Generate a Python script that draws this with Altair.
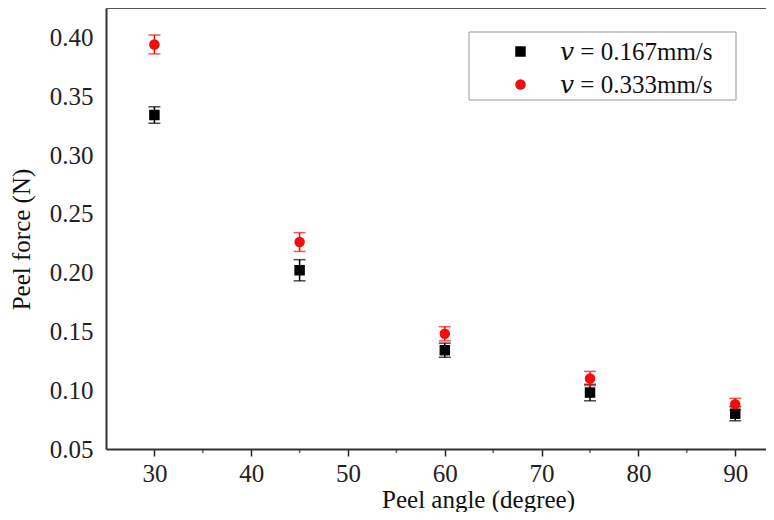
import altair as alt
import pandas as pd

angles = [30, 45, 60, 75, 90]
series_names = ["𝑣 = 0.167mm/s", "𝑣 = 0.333mm/s"]
series_colors = ["#000000", "#f20c0c"]
force_slow = [0.334, 0.202, 0.134, 0.098, 0.080]
err_slow = [0.007, 0.009, 0.006, 0.007, 0.006]
force_fast = [0.394, 0.226, 0.148, 0.110, 0.088]
err_fast = [0.008, 0.008, 0.006, 0.006, 0.005]

x_major = [30, 40, 50, 60, 70, 80, 90]
x_minor = [35, 45, 55, 65, 75, 85]
y_ticks = [0.05, 0.10, 0.15, 0.20, 0.25, 0.30, 0.35, 0.40]

rows = []
for name, f, e in [(series_names[0], force_slow, err_slow), (series_names[1], force_fast, err_fast)]:
    for a, v, er in zip(angles, f, e):
        rows.append({"angle": a, "force": v, "err": er, "series": name})
df = pd.DataFrame(rows)

FONT = "Liberation Serif"
W, H = 660, 441

color_scale = alt.Scale(domain=series_names, range=series_colors)
shape_scale = alt.Scale(domain=series_names, range=["square", "circle"])
x_scale = alt.Scale(domain=[25, 93.18], nice=False, zero=False)
y_scale = alt.Scale(domain=[0.05, 0.425], nice=False, zero=False)

x_axis = alt.Axis(
    values=x_major, title="Peel angle (degree)", grid=False,
    tickSize=7, tickWidth=1.5, tickColor="#222", domainColor="#333", domainWidth=2,
    labelFont=FONT, labelFontSize=25, labelColor="#222", labelPadding=5,
    titleFont=FONT, titleFontSize=25, titleFontWeight="normal", titleColor="#111",
    titleX=372, titleY=58, titleBaseline="alphabetic",
)
y_axis = alt.Axis(
    values=y_ticks, format=".2f", title="Peel force (N)", grid=False, ticks=False,
    domainColor="#333", domainWidth=2,
    labelFont=FONT, labelFontSize=25, labelColor="#222", labelPadding=13,
    titleFont=FONT, titleFontSize=25, titleFontWeight="normal", titleColor="#111",
    titleX=-72, titleY=231,
)

base = alt.Chart(df)

layers = []

legend_box = alt.Chart(pd.DataFrame({"k": [0]})).mark_rect(
    fill="white", stroke="#999", strokeWidth=1
).encode(x=alt.value(363), x2=alt.value(630), y=alt.value(24), y2=alt.value(92))
top_line = alt.Chart(pd.DataFrame({"k": [0]})).mark_rule(
    stroke="#555", strokeWidth=2
).encode(x=alt.value(0), x2=alt.value(W), y=alt.value(0))
minor_ticks = alt.Chart(pd.DataFrame({"m": x_minor})).mark_tick(
    orient="vertical", size=4, thickness=1.5, color="#222"
).encode(x=alt.X("m:Q", scale=x_scale), y=alt.value(H + 2))

for name, col in zip(series_names, series_colors):
    sub = base.transform_filter(alt.datum.series == name).transform_calculate(
        lo="datum.force - datum.err", hi="datum.force + datum.err"
    )
    layers.append(sub.mark_rule(strokeWidth=1.5, color=col).encode(
        x=alt.X("angle:Q", scale=x_scale), y=alt.Y("lo:Q", scale=y_scale), y2="hi:Q"))
    layers.append(sub.mark_tick(orient="horizontal", size=12, thickness=1.5, color=col).encode(
        x=alt.X("angle:Q", scale=x_scale), y=alt.Y("lo:Q", scale=y_scale)))
    layers.append(sub.mark_tick(orient="horizontal", size=12, thickness=1.5, color=col).encode(
        x=alt.X("angle:Q", scale=x_scale), y=alt.Y("hi:Q", scale=y_scale)))

points = base.mark_point(filled=True, opacity=1, size=110).encode(
    x=alt.X("angle:Q", scale=x_scale, axis=x_axis),
    y=alt.Y("force:Q", scale=y_scale, axis=y_axis),
    color=alt.Color("series:N", scale=color_scale, title=None,
                    legend=alt.Legend(orient="none", legendX=402, legendY=31)),
    shape=alt.Shape("series:N", scale=shape_scale, title=None),
)

chart = alt.layer(
    *layers, minor_ticks, legend_box, top_line, points,
).properties(
    width=W, height=H,
    background="white",
    autosize=alt.AutoSizeParams(type="none"),
    padding={"left": 98, "top": 0, "right": 0, "bottom": 63},
).configure_view(stroke=None).configure_legend(
    labelFont="Liberation Serif, DejaVu Serif", labelFontSize=25, labelColor="#111",
    symbolSize=110, symbolOpacity=1, labelOffset=27, rowPadding=7, padding=0,
)

chart.save("out.html", embed_options={"renderer": "svg", "actions": False})
